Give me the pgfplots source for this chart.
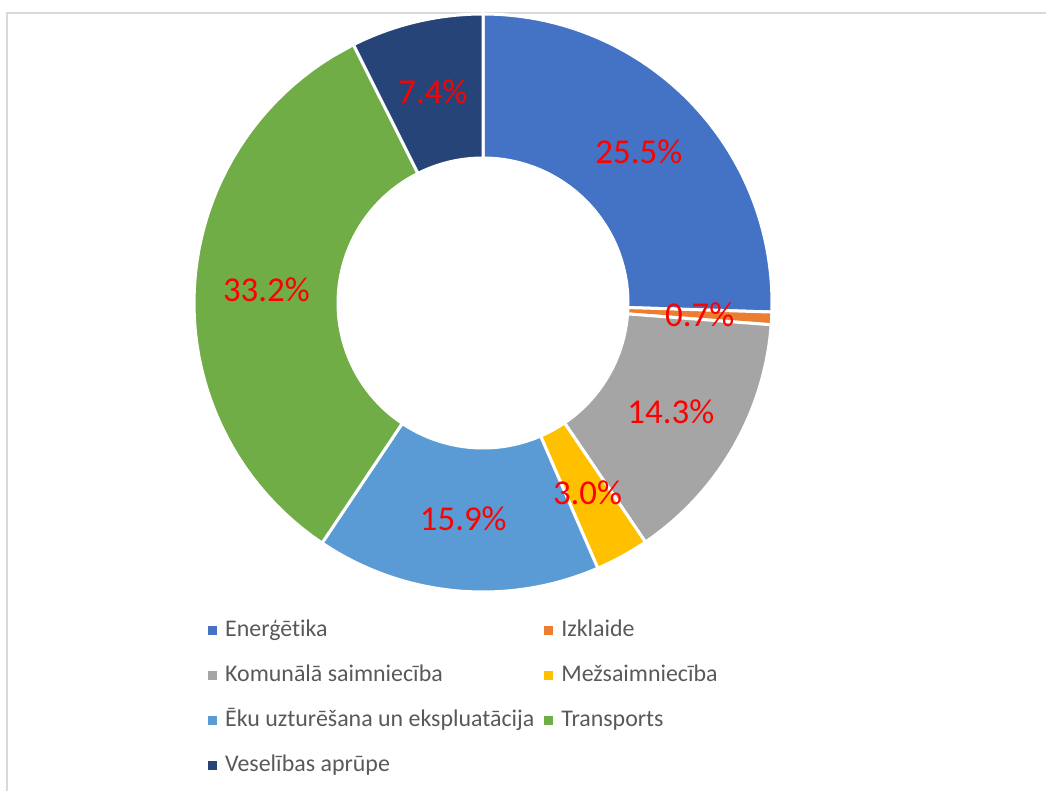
\documentclass[border=0pt]{standalone}
\usepackage{pgfplots}
\pgfplotsset{compat=1.18}
\usepackage{pgfplotstable}
\usepackage{fontspec}
\setmainfont{Carlito}[Ligatures=NoCommon]
\definecolor{cEn}{HTML}{4472C4}
\definecolor{cIz}{HTML}{ED7D31}
\definecolor{cKo}{HTML}{A5A5A5}
\definecolor{cMe}{HTML}{FFC000}
\definecolor{cEk}{HTML}{5B9BD5}
\definecolor{cTr}{HTML}{70AD47}
\definecolor{cVe}{HTML}{264478}
\definecolor{legtext}{HTML}{595959}
\definecolor{bordergray}{HTML}{D9D9D9}

\pgfplotstableread[col sep=semicolon]{
name;value;color
Enerģētika;25.5;cEn
Izklaide;0.7;cIz
Komunālā saimniecība;14.3;cKo
Mežsaimniecība;3.0;cMe
Ēku uzturēšana un ekspluatācija;15.9;cEk
Transports;33.2;cTr
Veselības aprūpe;7.4;cVe
}\slicedata

\newcommand\Ro{289}
\newcommand\Ri{145}
\newcommand\Rl{217}
\newcommand\cx{483}
\newcommand\cy{488}

\begin{document}
\begin{tikzpicture}
\begin{axis}[
  width=1046bp, height=791bp, scale only axis,
  xmin=0, xmax=1046, ymin=0, ymax=791,
  hide axis, clip=false,
  legend columns=2,
  legend cell align=left,
  legend image code/.code={\fill[#1,draw=none] (0bp,-4.5bp) rectangle (9bp,4.5bp);},
  legend style={draw=none, fill=none, at={(axis cs:205,174)}, anchor=north west,
    font=\fontsize{24}{28}\selectfont, row sep=22bp,
    nodes={text=legtext, inner ysep=0pt, inner xsep=0bp, text height=17bp, text depth=6bp},
    /tikz/every odd column/.append style={column sep=8bp},
    /tikz/every even column/.append style={column sep=10bp}},
]
\addplot[forget plot, draw=bordergray, line width=1.5bp] coordinates {(7,0) (7,778) (1046,778)};
\xdef\cum{0}
\pgfplotsforeachungrouped \i in {0,...,6}{%
  \pgfplotstablegetelem{\i}{value}\of\slicedata \let\val\pgfplotsretval
  \pgfplotstablegetelem{\i}{color}\of\slicedata \let\col\pgfplotsretval
  \pgfplotstablegetelem{\i}{name}\of\slicedata \let\nm\pgfplotsretval
  \pgfmathsetmacro\aS{\cum*3.6}%
  \pgfmathsetmacro\aE{(\cum+\val)*3.6}%
  \edef\cmd{\noexpand\addplot[fill=\col, draw=white, line width=3bp, variable=\noexpand\t,
     samples at={0,0.02,...,0.98,1,2,2.02,...,2.98,3}]
     ({\cx+((\noexpand\t<1.5)*\Ro+(\noexpand\t>1.5)*\Ri)*sin((\noexpand\t<1.5)*(\aS+(\aE-\aS)*\noexpand\t)+(\noexpand\t>1.5)*(\aE-(\aE-\aS)*(\noexpand\t-2)))},
      {\cy+((\noexpand\t<1.5)*\Ro+(\noexpand\t>1.5)*\Ri)*cos((\noexpand\t<1.5)*(\aS+(\aE-\aS)*\noexpand\t)+(\noexpand\t>1.5)*(\aE-(\aE-\aS)*(\noexpand\t-2)))}) -- cycle;
     \noexpand\addlegendentry{\nm}}%
  \cmd
  \pgfmathsetmacro\cumn{\cum+\val}%
  \xdef\cum{\cumn}%
}
\xdef\cum{0}
\pgfplotsforeachungrouped \i in {0,...,6}{%
  \pgfplotstablegetelem{\i}{value}\of\slicedata \let\val\pgfplotsretval
  \pgfmathsetmacro\aM{(\cum+\val/2)*3.6}%
  \pgfmathsetmacro\lx{\cx+\Rl*sin(\aM)}%
  \pgfmathsetmacro\ly{\cy+\Rl*cos(\aM)}%
  \edef\cmd{\noexpand\node[text=red, font=\noexpand\fontsize{35}{40}\noexpand\selectfont, inner sep=0pt] at (axis cs:\lx,\ly) {\val\noexpand\%};}%
  \cmd
  \pgfmathsetmacro\cumn{\cum+\val}%
  \xdef\cum{\cumn}%
}
\end{axis}
\pgfresetboundingbox
\path (current axis.south west) rectangle (current axis.north east);
\end{tikzpicture}
\end{document}
